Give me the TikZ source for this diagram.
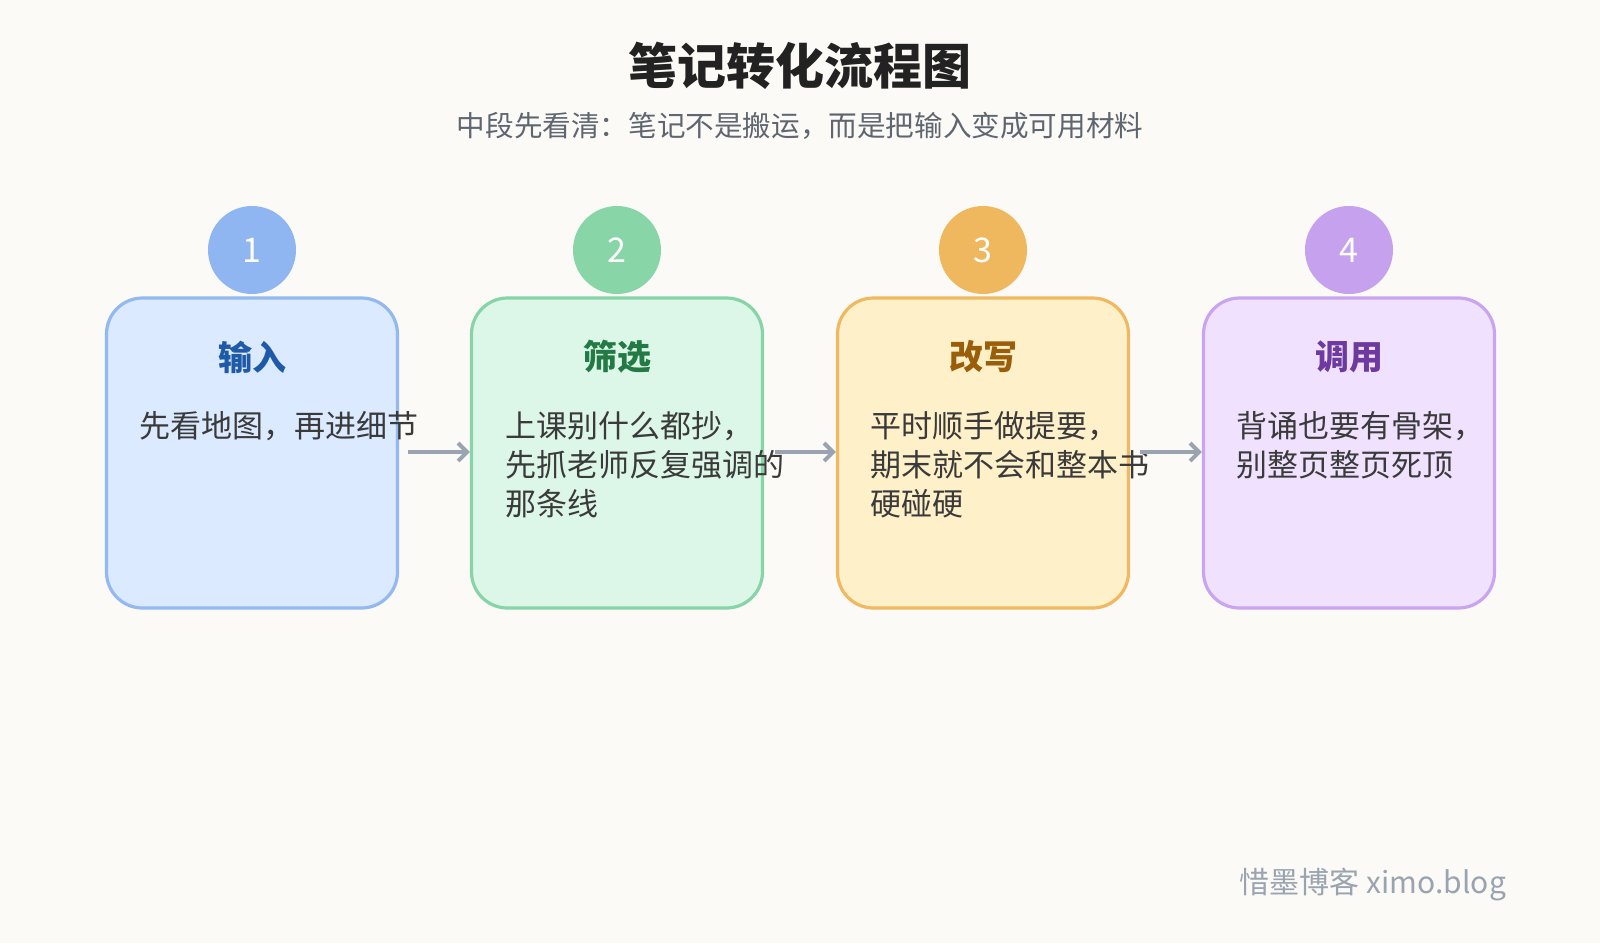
\documentclass[tikz,border=0pt]{standalone}
\usepackage{fontspec}
\setmainfont{Noto Sans CJK SC}
\usetikzlibrary{arrows.meta}
\definecolor{bg}{HTML}{FBFAF6}
\definecolor{fA}{HTML}{DBEAFE}\definecolor{sA}{HTML}{93B9F0}\definecolor{cA}{HTML}{8FB6F0}\definecolor{hA}{HTML}{1E5AA8}
\definecolor{fB}{HTML}{DCF7E8}\definecolor{sB}{HTML}{86D4A8}\definecolor{cB}{HTML}{88D6A8}\definecolor{hB}{HTML}{237A45}
\definecolor{fC}{HTML}{FEF0C8}\definecolor{sC}{HTML}{F0B860}\definecolor{cC}{HTML}{F0B85E}\definecolor{hC}{HTML}{9A5E0A}
\definecolor{fD}{HTML}{F0E2FE}\definecolor{sD}{HTML}{C9A4F0}\definecolor{cD}{HTML}{C6A2EE}\definecolor{hD}{HTML}{6E3AA0}
\definecolor{txt}{HTML}{3A3A3A}\definecolor{sub}{HTML}{5F6670}\definecolor{arr}{HTML}{9AA3B0}
\tikzset{
 card/.style={draw, line width=1.6pt, rounded corners=18pt, minimum width=145.5pt, minimum height=155pt, inner sep=0},
 num/.style={circle, minimum size=44pt, inner sep=0, text=white, font=\fontsize{17}{17}\selectfont},
 head/.style={font=\fontsize{17}{17}\selectfont\bfseries},
 body/.style={anchor=north west, align=left, text=txt, inner sep=0, font=\fontsize{15.5}{19.4}\selectfont},
 link/.style={draw=arr, line width=2pt, -{Straight Barb[length=4.5pt,width=9pt]}}
}
\begin{document}
\begin{tikzpicture}[x=0.5pt,y=-0.5pt]
\fill[bg] (0,0) rectangle (1600,943);
\useasboundingbox (0,0) rectangle (1600,943);
\node (title) at (800,66) {\fontsize{24.5}{25}\selectfont\bfseries\color[HTML]{222222}笔记转化流程图};
\node (subtitle) at (800,126) {\fontsize{14.3}{15}\selectfont\color{sub}中段先看清：笔记不是搬运，而是把输入变成可用材料};
\foreach \i/\x/\n/\h in {A/252/1/输入, B/617/2/筛选, C/983/3/改写, D/1349/4/调用}{
 \node[card, fill=f\i, draw=s\i] (box\i) at (\x,453) {};
 \node[num, fill=c\i] (num\i) at (\x,250) {\n};
 \node[head, text=h\i] (head\i) at (\x,357) {\h};
}
\node[body] (tA) at (139,411) {先看地图，再进细节};
\node[body] (tB) at (505,411) {上课别什么都抄，\\先抓老师反复强调的\\那条线};
\node[body] (tC) at (870,411) {平时顺手做提要，\\期末就不会和整本书\\硬碰硬};
\node[body] (tD) at (1236,411) {背诵也要有骨架，\\别整页整页死顶};
\coordinate (sA) at (408,452);\coordinate (sB) at (775,452);\coordinate (sC) at (1140,452);
\draw[link] (sA) -- (boxB.west|-sA);
\draw[link] (sB) -- (boxC.west|-sB);
\draw[link] (sC) -- (boxD.west|-sC);
\node[anchor=east, text=arr, font=\fontsize{15}{15}\selectfont] (footer) at (1513,884) {惜墨博客 ximo.blog};
\end{tikzpicture}
\end{document}
